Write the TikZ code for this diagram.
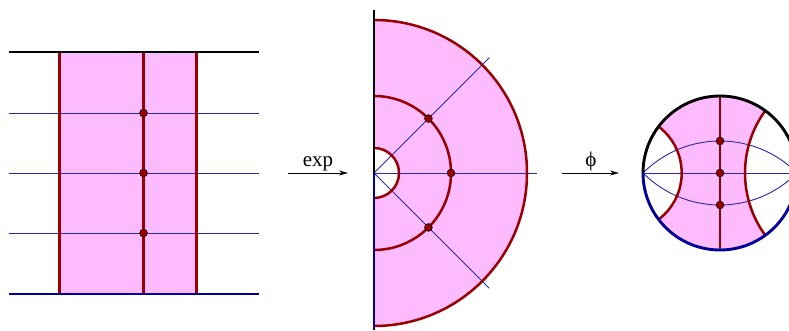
\documentclass[tikz,border=0pt]{standalone}
\usepackage{fontspec}
\setmainfont{Liberation Serif}
\usetikzlibrary{arrows.meta,calc}
\definecolor{pinkfill}{HTML}{FFBBFF}
\definecolor{dred}{HTML}{990000}
\definecolor{dblue}{HTML}{000099}
\definecolor{lblue}{HTML}{2828A8}
\tikzset{
  bound/.style={line width=2.9pt},
  redline/.style={draw=dred,line width=2.5pt},
  thinblue/.style={draw=lblue,line width=0.9pt},
  dot/.style={circle,fill=dred,draw=black,line width=0.6pt,inner sep=0pt,minimum size=7.8pt},
  maparrow/.style={line width=0.8pt,-{Stealth[length=9pt,width=5pt]}},
  maplabel/.style={anchor=base,inner sep=0pt,font=\fontsize{21}{24}\selectfont}
}
\begin{document}
\begin{tikzpicture}[x=1pt,y=1pt]
\clip (0,0) rectangle (789,331);
\useasboundingbox (0,0) rectangle (789,331);
% ---------------- left strip ----------------
\fill[pinkfill] (59.5,37) rectangle (196.5,279);
\coordinate (Lt1) at (9,218); \coordinate (Lt2) at (259,218);
\coordinate (Lm1) at (9,158); \coordinate (Lm2) at (259,158);
\coordinate (Lb1) at (9,98);  \coordinate (Lb2) at (259,98);
\draw[thinblue] (Lt1) -- (Lt2);
\draw[thinblue] (Lm1) -- (Lm2);
\draw[thinblue] (Lb1) -- (Lb2);
\coordinate (V1t) at (59.5,279); \coordinate (V1b) at (59.5,37);
\coordinate (V2t) at (143.5,279); \coordinate (V2b) at (143.5,37);
\coordinate (V3t) at (196.5,279); \coordinate (V3b) at (196.5,37);
\draw[redline] (V1t) -- (V1b);
\draw[redline] (V2t) -- (V2b);
\draw[redline] (V3t) -- (V3b);
\coordinate (Top1) at (9,279); \coordinate (Top2) at (259,279);
\coordinate (Bot1) at (9,37);  \coordinate (Bot2) at (259,37);
\draw[bound,black] (Top1) -- (Top2);
\draw[bound,dblue] (Bot1) -- (Bot2);
\node[dot] (ld1) at (143.5,218) {};
\node[dot] (ld2) at (143.5,158) {};
\node[dot] (ld3) at (143.5,98) {};
% ---------------- arrow exp ----------------
\coordinate (e1) at (288,158); \coordinate (e2) at (348,158);
\draw[maparrow] (e1) -- (e2);
\node[maplabel] (explab) at (318,164) {exp};
% ---------------- half annulus ----------------
\coordinate (C) at (374,158);
\fill[pinkfill] (374,311) arc[start angle=90,end angle=-90,radius=153] -- (374,133) arc[start angle=-90,end angle=90,radius=25] -- cycle;
\coordinate (r1) at ($(C)+(45:163)$);
\coordinate (r2) at ($(C)+(0:163)$);
\coordinate (r3) at ($(C)+(-45:163)$);
\draw[thinblue] (C) -- (r1);
\draw[thinblue] (C) -- (r2);
\draw[thinblue] (C) -- (r3);
\draw[redline] (374,311) arc[start angle=90,end angle=-90,radius=153];
\draw[redline] (374,235) arc[start angle=90,end angle=-90,radius=77];
\draw[redline] (374,183) arc[start angle=90,end angle=-90,radius=25];
\coordinate (Ax1) at (374,321); \coordinate (Ax2) at (374,1);
\draw[bound,black] (Ax1) -- (C);
\draw[bound,dblue] (C) -- (Ax2);
\node[dot] (md1) at ($(C)+(45:77)$) {};
\node[dot] (md2) at ($(C)+(0:77)$) {};
\node[dot] (md3) at ($(C)+(-45:77)$) {};
% ---------------- arrow phi ----------------
\coordinate (p1) at (562,158); \coordinate (p2) at (619,158);
\draw[maparrow] (p1) -- (p2);
\node[maplabel] (philab) at (591,164) {ϕ};
% ---------------- disc ----------------
\coordinate (D) at (720,158);
\begin{scope}
  \clip (D) circle[radius=77];
  \fill[pinkfill] (D) circle[radius=77];
  \fill[white] (623.45,158) circle[radius=58.25];
  \fill[white] (851,158) circle[radius=106];
  \draw[thinblue] (720,81.4) circle[radius=108.6];
  \draw[thinblue] (720,234.6) circle[radius=108.6];
  \draw[thinblue] (643,158) -- (797,158);
  \draw[redline] (623.45,158) circle[radius=58.25];
  \draw[redline] (851,158) circle[radius=106];
  \draw[redline] (720,235) -- (720,81);
\end{scope}
\draw[bound,black] (797,158) arc[start angle=0,end angle=180,radius=77];
\draw[bound,dblue] (643,158) arc[start angle=180,end angle=360,radius=77];
\node[dot] (dd1) at (720,190) {};
\node[dot] (dd2) at (720,158) {};
\node[dot] (dd3) at (720,126) {};
\end{tikzpicture}
\end{document}
